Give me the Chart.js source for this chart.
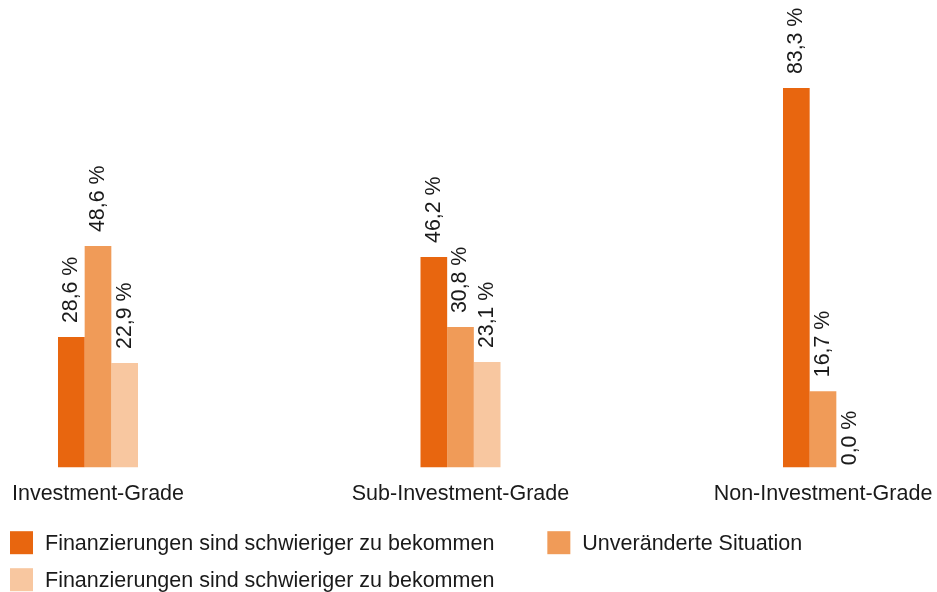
<!DOCTYPE html>
<html>
<head>
<meta charset="utf-8">
<script src="https://cdn.jsdelivr.net/npm/chart.js@4/dist/chart.umd.min.js"></script>
<style>
  html, body { margin: 0; padding: 0; background: #fff; }
  #wrap { width: 937px; height: 592px; }
</style>
</head>
<body>
<div id="wrap"><canvas id="myChart"></canvas></div>
<script>
const categories = ['Investment-Grade', 'Sub-Investment-Grade', 'Non-Investment-Grade'];
const seriesNames = [
    'Finanzierungen sind schwieriger zu bekommen',
    'Unveränderte Situation',
    'Finanzierungen sind schwieriger zu bekommen'
];
const harder = [28.6, 46.2, 83.3];
const unchanged = [48.6, 30.8, 16.7];
const easier = [22.9, 23.1, 0.0];
const colors = ['#E8660F', '#F09B58', '#F8C7A0'];

const FONT = "'Liberation Sans', Arial, sans-serif";
const TEXT = '#1a1a1a';

// vertical value labels above each bar
const barLabels = {
    id: 'barLabels',
    afterDatasetsDraw(chart) {
        const ctx = chart.ctx;
        ctx.save();
        ctx.font = '21.3px ' + FONT;
        ctx.fillStyle = TEXT;
        ctx.textAlign = 'left';
        ctx.textBaseline = 'middle';
        chart.data.datasets.forEach((ds, i) => {
            const meta = chart.getDatasetMeta(i);
            meta.data.forEach((bar, j) => {
                const v = ds.data[j];
                const txt = v.toFixed(1).replace('.', ',') + ' %';
                const gap = v > 0 ? 14 : 2;
                ctx.save();
                ctx.translate(bar.x, bar.y - gap);
                ctx.rotate(-Math.PI / 2);
                ctx.fillText(txt, 0, 0);
                ctx.restore();
            });
        });
        ctx.restore();
    }
};

// legend laid out as a two column grid under the axis
const gridLegend = {
    id: 'gridLegend',
    afterDraw(chart) {
        const ctx = chart.ctx;
        ctx.save();
        ctx.font = '21.5px ' + FONT;
        ctx.textBaseline = 'middle';
        ctx.textAlign = 'left';
        const box = 23, textGap = 12, colGap = 53, rowH = 37;
        const itemW = Math.max(...seriesNames.map(t => ctx.measureText(t).width)) + box + textGap;
        const left = 10;
        const perRow = 2;
        const top = chart.chartArea.bottom + 64;
        chart.data.datasets.forEach((ds, i) => {
            const col = i % perRow;
            const row = Math.floor(i / perRow);
            const x = left + col * (itemW + colGap);
            const y = top + row * rowH;
            ctx.fillStyle = ds.backgroundColor;
            ctx.fillRect(x, y, box, box);
            ctx.fillStyle = TEXT;
            ctx.fillText(ds.label, x + box + textGap, y + box / 2 + 1);
        });
        ctx.restore();
    }
};

const ctx = document.getElementById('myChart').getContext('2d');
const myChart = new Chart(ctx, {
    type: 'bar',
    data: {
        labels: categories,
        datasets: [harder, unchanged, easier].map((d, i) => ({
            label: seriesNames[i],
            data: d,
            backgroundColor: colors[i],
            borderWidth: 0,
            clip: false,
            categoryPercentage: 0.2207,
            barPercentage: 1
        }))
    },
    options: {
        responsive: true,
        maintainAspectRatio: false,
        animation: false,
        layout: {
            padding: { left: 0, right: 0, top: 12, bottom: 71 }
        },
        plugins: {
            legend: { display: false },
            tooltip: { enabled: false }
        },
        scales: {
            x: {
                offset: false,
                grid: { display: false, drawTicks: false },
                border: { display: false },
                afterFit(scale) {
                    scale.paddingLeft = 98;
                    scale.paddingRight = 114;
                },
                ticks: {
                    padding: 14,
                    color: TEXT,
                    font: { family: FONT, size: 21.5 },
                    maxRotation: 0,
                    autoSkip: false
                }
            },
            y: {
                display: false,
                min: 0,
                max: 100
            }
        }
    },
    plugins: [barLabels, gridLegend]
});
</script>
</body>
</html>
